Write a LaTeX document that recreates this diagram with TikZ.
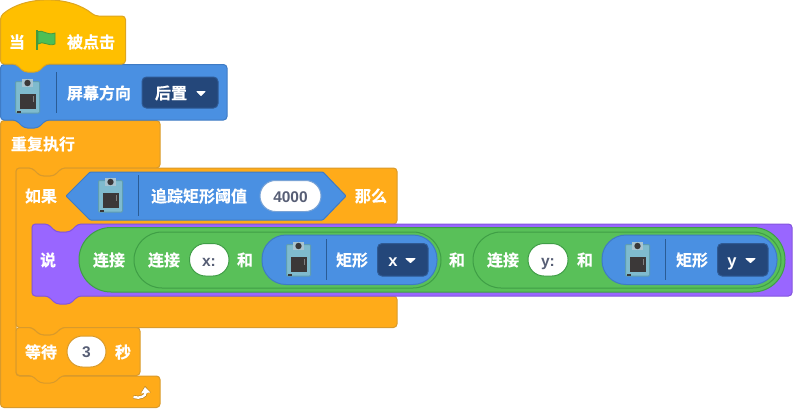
\documentclass[tikz,border=0pt]{standalone}
\usepackage{fontspec}
\setmainfont{Liberation Sans}
\newfontfamily\cjkf[BoldFont={Noto Sans CJK SC Bold},BoldFeatures={FakeBold=0.5}]{Noto Sans CJK SC}
\usetikzlibrary{arrows.meta}
\definecolor{hatc}{HTML}{FFBF00}
\definecolor{hatl}{HTML}{DDA520}
\definecolor{ctrl}{HTML}{FFAB19}
\definecolor{ctrll}{HTML}{D99A2B}
\definecolor{blk}{HTML}{4A90E2}
\definecolor{blkl}{HTML}{3F7BC4}
\definecolor{purp}{HTML}{9966FF}
\definecolor{purpl}{HTML}{8455DD}
\definecolor{grn}{HTML}{59C059}
\definecolor{grnl}{HTML}{3F9E46}
\definecolor{dd}{HTML}{24477A}
\definecolor{ddl}{HTML}{2F5A94}
\definecolor{num}{HTML}{575E75}
\definecolor{icbody}{HTML}{7FBBCE}
\definecolor{icedge}{HTML}{5F9DB2}
\definecolor{iccam}{HTML}{A9C4D0}
\definecolor{icdark}{HTML}{3B3838}
\definecolor{flagf}{HTML}{4CBF56}
\definecolor{flagl}{HTML}{45993D}
\definecolor{divd}{HTML}{2A5C96}
\tikzset{
  x=1pt,y=-1pt,
  blockbase/.style={line width=1pt,rounded corners=3.5pt,line join=round},
  hatblock/.style={blockbase,fill=hatc,draw=hatl},
  ctrlblock/.style={blockbase,fill=ctrl,draw=ctrll},
  blueblock/.style={blockbase,fill=blk,draw=blkl},
  purpblock/.style={blockbase,fill=purp,draw=purpl},
  greenpill/.style={line width=1pt,fill=grn,draw=grnl,rounded corners=#1},
  bluepill/.style={line width=1pt,fill=blk,draw=blkl,rounded corners=24pt},
  whitepill/.style={line width=1pt,fill=white,rounded corners=15.5pt},
  ddbox/.style={line width=1pt,fill=dd,draw=ddl,rounded corners=4.5pt},
  caret/.style={fill=white,draw=white,line width=1pt,line join=round},
  divider/.style={line width=1pt,draw=#1},
  label/.style={text=white,font=\cjkf\bfseries\fontsize{16}{16}\selectfont,inner sep=0pt},
  latin/.style={text=white,font=\bfseries\fontsize{16.5}{16}\selectfont,inner sep=0pt,anchor=base},
  numtext/.style={text=num,font=\bfseries\fontsize{15.5}{16}\selectfont,inner sep=0pt,anchor=base},
  camicon/.pic={
    \fill[iccam] (7,0) rectangle (18,9);
    \draw[fill=icbody,draw=icedge,line width=1pt,rounded corners=1pt] (0.5,2.5) rectangle (24.5,34);
    \fill[iccam] (7,0) rectangle (18,8);
    \fill[icdark] (12.5,4) circle (3.2);
    \fill[icdark] (4.5,14.5) rectangle (20.5,30);
    \fill[gray] (18,17) rectangle (19,23);
    \fill[icdark] (1.5,31.5) rectangle (6,33.5);
  }
}
\begin{document}
\begin{tikzpicture}
\useasboundingbox (0,0) rectangle (793,408);
% stack blocks, drawn from back to front
\draw[ctrlblock] (80,120.5) -- (160,120.5) -- (160,168) -- (62,168) -- (54,176) -- (40,176) -- (32,168) -- (16,168) -- (16,376) -- (160,376) -- (160,407.5) -- (0.5,407.5) -- (0.5,120.5) -- cycle;
\draw[blueblock] (100,64.5) -- (227,64.5) -- (227,120) -- (46,120) -- (38,128) -- (24,128) -- (16,120) -- (0.5,120) -- (0.5,64.5) -- cycle;
\draw[hatblock] (0.5,16) .. controls (25,-4.7) and (70,-4.7) .. (95,16) -- (125.5,16) -- (125.5,64) -- (46,64) -- (38,72) -- (24,72) -- (16,64) -- (0.5,64) -- cycle;
\draw[ctrlblock] (200,168) -- (397,168) -- (397,224) -- (78,224) -- (70,232) -- (56,232) -- (48,224) -- (32,224) -- (32,296) -- (397,296) -- (397,327.5) -- (62,327.5) -- (54,335) -- (40,335) -- (32,327.5) -- (16,327.5) -- (16,168) -- (32,168) -- (40,176) -- (54,176) -- (62,168) -- cycle;
\draw[ctrlblock] (100,327.5) -- (140,327.5) -- (140,375.5) -- (62,375.5) -- (54,383) -- (40,383) -- (32,375.5) -- (16,375.5) -- (16,327.5) -- (32,327.5) -- (40,335) -- (54,335) -- (62,327.5) -- cycle;
\draw[purpblock] (300,224) -- (792,224) -- (792,296) -- (78,296) -- (70,304) -- (56,304) -- (48,296) -- (32,296) -- (32,224) -- (48,224) -- (56,232) -- (70,232) -- (78,224) -- cycle;
% hat flag
\fill[flagl] (36,30) rectangle (38,50);
\draw[line width=.8pt,draw=flagl,fill=flagf] (38,31.5) .. controls (43,29.5) and (47,36) .. (55,33) -- (55,44) .. controls (48,47) and (43,40) .. (38,44) -- cycle;
\node[label] (hatA) at (17,42) {当};
\node[label] (hatB) at (91,42) {被点击};
% screen block
\pic at (15,79) {camicon};
\draw[divider=divd] (56,72) -- (56,113);
\node[label] (screen) at (99,93) {屏幕方向};
\draw[ddbox] (142,77) rectangle (218,108);
\node[label] (rear) at (171,93) {后置};
\draw[caret] (197,91.5) -- (205,91.5) -- (201,95.5) -- cycle;
% forever
\node[label] (forever) at (43,144) {重复执行};
% if
\node[label] (ifw) at (41,196) {如果};
\draw[blueblock,rounded corners=1pt] (66,196) -- (90,172) -- (323,172) -- (346,196) -- (323,220) -- (90,220) -- cycle;
\pic at (98,178) {camicon};
\draw[divider=divd] (138,175) -- (138,216);
\node[label] (track) at (199,196) {追踪矩形阈值};
\draw[whitepill,draw=blkl!70!white] (260,180.5) rectangle (321,211.5);
\node[numtext] (val) at (290.5,202) {4000};
\node[label] (then) at (371,196) {那么};
% say
\node[label] (say) at (48,260) {说};
\draw[greenpill=32pt] (79,227.5) rectangle (785,292);
\node[label] (j0) at (109,260) {连接};
% second layer inside the outer join
\draw[greenpill=28pt] (134,232) rectangle (441,288);
\draw[greenpill=28pt] (473,232) rectangle (781,288);
\node[label] (j1) at (164,260) {连接};
\draw[whitepill,draw=grnl,rounded corners=16pt] (189.5,243.5) rectangle (229,276);
\node[numtext] (xl) at (209,266) {x:};
\node[label] (h1) at (245,260) {和};
\draw[bluepill] (262,235) rectangle (437,284.5);
\pic at (286,242) {camicon};
\draw[divider=divd] (326,239) -- (326,280);
\node[label] (r1) at (352,260) {矩形};
\draw[ddbox] (377.5,243.5) rectangle (428,276);
\node[latin] (xv) at (393,266) {x};
\draw[caret] (406,258.5) -- (415,258.5) -- (410.5,262.5) -- cycle;
\node[label] (h2) at (457,260) {和};
\node[label] (j2) at (503,260) {连接};
\draw[whitepill,draw=grnl,rounded corners=16pt] (528,243.5) rectangle (568,276);
\node[numtext] (yl) at (548,266) {y:};
\node[label] (h3) at (585,260) {和};
\draw[bluepill] (602,235) rectangle (777,284.5);
\pic at (625,242) {camicon};
\draw[divider=divd] (665,239) -- (665,280);
\node[label] (r2) at (692,260) {矩形};
\draw[ddbox] (717.5,243.5) rectangle (768,276);
\node[latin] (yv) at (732,266) {y};
\draw[caret] (746,258.5) -- (755,258.5) -- (750.5,262.5) -- cycle;
% wait
\node[label] (wa) at (41,352) {等待};
\draw[whitepill,draw=ctrll] (67,336) rectangle (106,367);
\node[numtext] (wn) at (86.5,357.5) {3};
\node[label] (wb) at (123,352) {秒};
% repeat arrow
\draw[ctrll!80!black,line width=3.6pt,-{Triangle[length=7pt,width=10pt]}] (133.5,397) .. controls (140,399) and (146,396) .. (145,386);
\draw[white,line width=2.4pt,-{Triangle[length=6pt,width=9pt]}] (133.5,397) .. controls (140,399) and (146,396) .. (145,387);
\end{tikzpicture}
\end{document}
